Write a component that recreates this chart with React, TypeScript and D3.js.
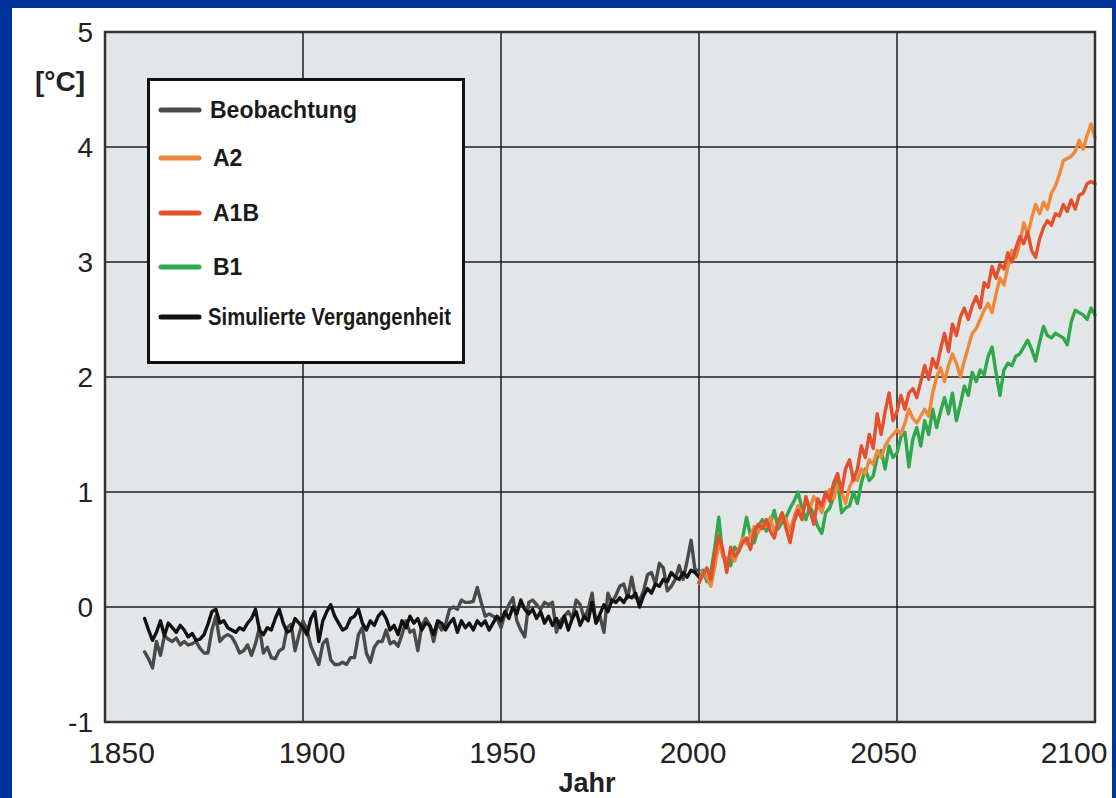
import React from "react";
import * as d3 from "d3";

const W = 1116;
const H = 798;

const pastYears = d3.range(1860, 2001);
const futureYears = d3.range(2000, 2101);

const beobachtung = [
  -0.39, -0.45, -0.53, -0.3, -0.42, -0.25, -0.28, -0.3, -0.27, -0.33,
  -0.3, -0.33, -0.32, -0.3, -0.36, -0.4, -0.4, -0.2, -0.08, -0.3,
  -0.26, -0.24, -0.26, -0.32, -0.4, -0.38, -0.33, -0.42, -0.32, -0.18,
  -0.4, -0.35, -0.44, -0.45, -0.38, -0.36, -0.18, -0.15, -0.38, -0.24,
  -0.12, -0.2, -0.34, -0.42, -0.5, -0.32, -0.28, -0.46, -0.5, -0.5,
  -0.48, -0.5, -0.44, -0.44, -0.24, -0.18, -0.4, -0.48, -0.35, -0.3,
  -0.3, -0.2, -0.32, -0.3, -0.34, -0.24, -0.12, -0.22, -0.2, -0.38,
  -0.16, -0.1, -0.16, -0.3, -0.14, -0.2, -0.15, -0.02, 0.0, -0.02,
  0.06, 0.04, 0.04, 0.05, 0.17, 0.04, -0.08, -0.06, -0.08, -0.1,
  -0.18, -0.06, 0.02, 0.08, -0.12, -0.2, -0.26, 0.04, 0.06, 0.02,
  -0.02, 0.04, 0.02, 0.04, -0.22, -0.12, -0.08, -0.04, -0.1, 0.06,
  0.02, -0.1, -0.02, 0.12, -0.14, -0.08, -0.22, 0.12, 0.04, 0.1,
  0.18, 0.2, 0.08, 0.26, 0.08, 0.06, 0.14, 0.28, 0.3, 0.2,
  0.38, 0.34, 0.14, 0.18, 0.24, 0.36, 0.24, 0.4, 0.58, 0.32,
  0.32,
];

const simuliert = [
  -0.1, -0.2, -0.29, -0.22, -0.12, -0.25, -0.14, -0.18, -0.22, -0.16,
  -0.2, -0.26, -0.23, -0.29, -0.28, -0.24, -0.15, -0.04, -0.02, -0.14,
  -0.12, -0.18, -0.2, -0.22, -0.18, -0.2, -0.14, -0.1, -0.02, -0.2,
  -0.24, -0.18, -0.2, -0.1, -0.02, -0.14, -0.22, -0.2, -0.1, -0.14,
  -0.18, -0.24, -0.1, -0.04, -0.3, -0.12, -0.04, 0.02, -0.08, -0.14,
  -0.2, -0.18, -0.1, -0.08, -0.02, -0.14, -0.2, -0.12, -0.16, -0.08,
  -0.04, -0.1, -0.2, -0.16, -0.24, -0.12, -0.18, -0.08, -0.14, -0.1,
  -0.2, -0.14, -0.16, -0.24, -0.12, -0.14, -0.2, -0.14, -0.1, -0.22,
  -0.12, -0.18, -0.14, -0.2, -0.12, -0.16, -0.12, -0.2, -0.14, -0.08,
  -0.12, -0.04, -0.1, 0.0, -0.06, 0.06, -0.02, -0.06, -0.02, -0.1,
  -0.04, -0.14, -0.08, -0.16, -0.1, -0.18, -0.08, -0.2, -0.1, -0.04,
  -0.16, -0.08, -0.12, 0.04, -0.14, -0.06, 0.02, -0.04, 0.06, 0.04,
  0.08, 0.04, 0.1, 0.08, 0.12, 0.0, 0.1, 0.16, 0.12, 0.2,
  0.18, 0.24, 0.22, 0.3, 0.26, 0.24, 0.3, 0.26, 0.32, 0.3,
  0.26,
];

const a2 = [
  0.21, 0.3, 0.26, 0.18, 0.35, 0.56, 0.45, 0.38, 0.48, 0.4,
  0.5, 0.6, 0.55, 0.62, 0.7, 0.65, 0.72, 0.7, 0.78, 0.66,
  0.72, 0.8, 0.76, 0.66, 0.78, 0.88, 0.8, 0.92, 0.86, 0.96,
  0.9, 0.82, 0.96, 1.02, 0.94, 1.06, 1.0, 0.9, 1.04, 1.12,
  1.1, 1.2, 1.16, 1.28, 1.24, 1.36, 1.3, 1.4, 1.46, 1.5,
  1.54, 1.5, 1.6, 1.72, 1.64, 1.6, 1.66, 1.72, 1.66, 1.86,
  2.0, 2.08, 1.96, 2.1, 2.2, 2.12, 2.0, 2.14, 2.26, 2.38,
  2.42, 2.5, 2.58, 2.64, 2.56, 2.72, 2.86, 2.8, 2.96, 3.1,
  3.04, 3.16, 3.34, 3.24, 3.38, 3.5, 3.42, 3.52, 3.46, 3.6,
  3.66, 3.76, 3.88, 3.9, 3.92, 3.96, 4.06, 3.98, 4.1, 4.2,
  4.08,
];

const a1b = [
  0.21, 0.28, 0.34, 0.24, 0.46, 0.62, 0.5, 0.3, 0.52, 0.44,
  0.48, 0.56, 0.6, 0.5, 0.66, 0.72, 0.68, 0.76, 0.66, 0.6,
  0.74, 0.82, 0.68, 0.56, 0.74, 0.84, 0.76, 0.96, 0.84, 0.72,
  0.94, 0.88, 1.0, 0.92, 1.08, 1.16, 1.0, 1.2, 1.28, 1.1,
  1.2, 1.4, 1.3, 1.5, 1.38, 1.68, 1.5, 1.7, 1.86, 1.62,
  1.7, 1.84, 1.72, 1.86, 1.9, 1.82, 1.96, 2.1, 1.98, 2.16,
  2.08, 2.24, 2.38, 2.22, 2.46, 2.36, 2.52, 2.6, 2.5, 2.62,
  2.7, 2.6, 2.82, 2.78, 2.96, 2.86, 2.98, 2.94, 3.08, 3.0,
  3.12, 3.22, 3.16, 3.26, 3.1, 3.04, 3.2, 3.3, 3.36, 3.32,
  3.42, 3.4, 3.5, 3.44, 3.54, 3.46, 3.58, 3.6, 3.68, 3.7,
  3.68,
];

const b1 = [
  0.21, 0.32, 0.22, 0.3, 0.52, 0.78, 0.44, 0.42, 0.36, 0.52,
  0.48, 0.6, 0.78, 0.62, 0.56, 0.7, 0.76, 0.66, 0.72, 0.84,
  0.68, 0.74, 0.78, 0.86, 0.92, 1.0, 0.86, 0.76, 0.88, 0.8,
  0.7, 0.64, 0.82, 0.86, 0.96, 1.1, 0.82, 0.86, 0.88, 1.0,
  0.9, 1.08, 1.2, 1.1, 1.14, 1.3, 1.36, 1.2, 1.4, 1.3,
  1.34, 1.48, 1.52, 1.22, 1.46, 1.56, 1.4, 1.62, 1.5, 1.72,
  1.56, 1.7, 1.82, 1.68, 1.86, 1.62, 1.76, 1.92, 1.84, 2.04,
  1.96, 2.06, 2.02, 2.18, 2.26, 2.04, 1.84, 2.06, 2.12, 2.1,
  2.18, 2.2, 2.26, 2.32, 2.24, 2.14, 2.3, 2.44, 2.36, 2.34,
  2.38, 2.36, 2.34, 2.28, 2.48, 2.58, 2.56, 2.54, 2.5, 2.6,
  2.54,
];

const xTicks = [1850, 1900, 1950, 2000, 2050, 2100];
const yTicks = [-1, 0, 1, 2, 3, 4, 5];

const legendItems = [
  { label: "Beobachtung", color: "#4a4a4a" },
  { label: "A2", color: "#f0883a" },
  { label: "A1B", color: "#e2502e" },
  { label: "B1", color: "#2ea84a" },
  { label: "Simulierte Vergangenheit", color: "#111111" },
];

const FONT = "'Liberation Sans', Arial, Helvetica, sans-serif";

export default function App() {
  const left = 105, right = 1095, top = 32, bottom = 722;
  const x = d3.scaleLinear().domain([1850, 2100]).range([left, right]);
  const y = d3.scaleLinear().domain([-1, 5]).range([bottom, top]);
  // tick label positions in the reference are spread slightly narrower than the grid
  const xLab = d3.scaleLinear().domain([1850, 2100]).range([121.5, 1074]);

  const line = d3
    .line<[number, number]>()
    .x((d) => x(d[0]))
    .y((d) => y(d[1]));

  const pathOf = (years: number[], vals: number[]) =>
    line(years.map((yr, i) => [yr, vals[i]] as [number, number])) || "";

  const series = [
    { years: pastYears, vals: beobachtung, color: legendItems[0].color },
    { years: pastYears, vals: simuliert, color: legendItems[4].color },
    { years: futureYears, vals: b1, color: legendItems[3].color },
    { years: futureYears, vals: a2, color: legendItems[1].color },
    { years: futureYears, vals: a1b, color: legendItems[2].color },
  ];

  const legendRows = [110, 158, 213, 267, 317];

  return (
    <div style={{ position: "absolute", left: 0, top: 0 }}>
      <svg width={W} height={H} style={{ display: "block" }}>
        <rect x={0} y={0} width={W} height={H} fill="#00339a" />
        <rect x={12} y={8} width={W - 16} height={H - 8} fill="#ffffff" />
        <rect x={left} y={top} width={right - left} height={bottom - top} fill="#e3e6e8" />
        {xTicks.slice(1, -1).map((t) => (
          <line key={"gx" + t} x1={x(t)} x2={x(t)} y1={top} y2={bottom} stroke="#1e1e1e" strokeWidth={1.5} />
        ))}
        {yTicks.slice(1, -1).map((t) => (
          <line key={"gy" + t} x1={left} x2={right} y1={y(t)} y2={y(t)} stroke="#1e1e1e" strokeWidth={1.5} />
        ))}
        {series.map((s, i) => (
          <path
            key={"s" + i}
            d={pathOf(s.years, s.vals)}
            fill="none"
            stroke={s.color}
            strokeWidth={3.4}
            strokeLinejoin="round"
            strokeLinecap="round"
          />
        ))}
        <rect x={left} y={top} width={right - left} height={bottom - top} fill="none" stroke="#333" strokeWidth={2.5} />
        {yTicks.map((t) => (
          <text
            key={"ty" + t}
            x={93}
            y={y(t)}
            textAnchor="end"
            dominantBaseline="central"
            fontFamily={FONT}
            fontSize={28}
            fill="#222"
          >
            {t}
          </text>
        ))}
        {xTicks.map((t) => (
          <text
            key={"tx" + t}
            x={xLab(t)}
            y={763}
            textAnchor="middle"
            fontFamily={FONT}
            fontSize={30}
            fill="#222"
          >
            {t}
          </text>
        ))}
        <text x={60} y={91} textAnchor="middle" fontFamily={FONT} fontSize={28} fontWeight="bold" fill="#222">
          [°C]
        </text>
        <text x={587} y={792} textAnchor="middle" fontFamily={FONT} fontSize={27} fontWeight="bold" fill="#222">
          Jahr
        </text>
        <rect x={148.5} y={79.5} width={315} height={283} fill="#ffffff" stroke="#111" strokeWidth={3} />
        {legendItems.map((it, i) => (
          <g key={"lg" + i}>
            <line
              x1={161}
              x2={199}
              y1={legendRows[i]}
              y2={legendRows[i]}
              stroke={it.color}
              strokeWidth={5}
              strokeLinecap="round"
            />
            <text
              x={i === 0 ? 210 : i === 4 ? 208 : 213}
              y={legendRows[i]}
              dominantBaseline="central"
              fontFamily={FONT}
              fontSize={23}
              fontWeight="bold"
              fill="#1a1a1a"
              textLength={i === 4 ? 243 : undefined}
              lengthAdjust={i === 4 ? "spacingAndGlyphs" : undefined}
            >
              {it.label}
            </text>
          </g>
        ))}
      </svg>
    </div>
  );
}
